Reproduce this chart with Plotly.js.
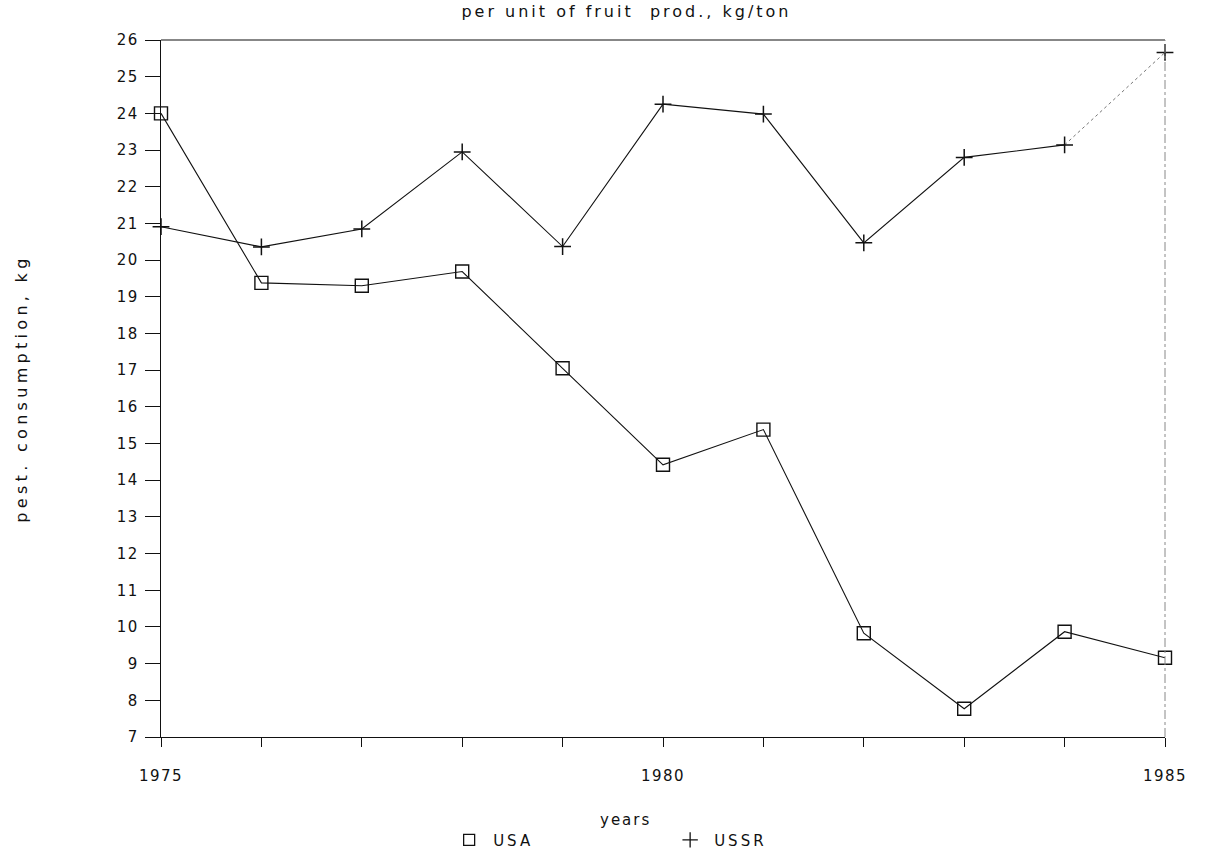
<!DOCTYPE html>
<html>
<head>
<meta charset="utf-8">
<script src="https://cdn.plot.ly/plotly-3.0.1.min.js"></script>
<style>
html,body{margin:0;padding:0;background:#fff;}
#chart{width:1207px;height:854px;}
#chart .gtitle{letter-spacing:3px;}
#chart .ytitle{letter-spacing:4.3px;}
#chart .annotation-text{letter-spacing:2px;}
#chart .legendtext{letter-spacing:3px;}
#chart .xtick text, #chart .ytick text{letter-spacing:1.5px;}
</style>
</head>
<body>
<div id="chart"></div>
<script>
const years = [1975, 1976, 1977, 1978, 1979, 1980, 1981, 1982, 1983, 1984, 1985];
const usa  = [24.0, 19.38, 19.3, 19.69, 17.05, 14.42, 15.38, 9.83, 7.77, 9.87, 9.16];
const ussr = [20.91, 20.36, 20.85, 22.95, 20.37, 24.25, 23.98, 20.47, 22.8, 23.14, 25.66];
const seriesNames = ['USA', 'USSR'];
const xTickVals = [1975, 1980, 1985];
const titleText = 'per unit of fruit&nbsp;&nbsp;prod., kg/ton';
const xTitle = 'years';
const yTitle = 'pest. consumption, kg';

const FONT = 'DejaVu Sans, sans-serif';
const INK = '#111';

const traces = [
  {x: years, y: usa, mode: 'lines+markers', name: seriesNames[0], showlegend: false,
   line: {color: INK, width: 1.1},
   marker: {symbol: 'square-open', size: 13, color: INK, line: {width: 1.4, color: INK}},
   cliponaxis: false},
  // USSR line: last segment is faint/dotted in the scan
  {x: years.slice(9), y: ussr.slice(9), mode: 'lines', showlegend: false,
   line: {color: '#777', width: 1, dash: 'dot'}, cliponaxis: false},
  {x: years.slice(0, 10), y: ussr.slice(0, 10), mode: 'lines', showlegend: false,
   line: {color: INK, width: 1.1}, cliponaxis: false},
  {x: years, y: ussr, mode: 'markers', name: seriesNames[1], showlegend: false,
   marker: {symbol: 'cross-thin-open', size: 12, color: INK, line: {width: 1.5, color: INK}},
   cliponaxis: false},
  {x: [null], y: [null], mode: 'markers', name: seriesNames[0], showlegend: true,
   marker: {symbol: 'square-open', size: 11, color: INK, line: {width: 1.3, color: INK}}},
  {x: [null], y: [null], mode: 'markers', name: seriesNames[1], showlegend: true,
   marker: {symbol: 'cross-thin-open', size: 11, color: INK, line: {width: 1.3, color: INK}}}
];

const layout = {
  width: 1207, height: 854,
  paper_bgcolor: '#fff', plot_bgcolor: '#fff',
  margin: {l: 161, r: 42, t: 40, b: 117, autoexpand: false},
  font: {family: FONT, size: 15, color: INK},
  title: {text: titleText, x: 0.519, xanchor: 'center', y: 0.993, yanchor: 'top',
          font: {family: FONT, size: 16, color: INK}},
  xaxis: {
    range: [1975, 1985], tickvals: xTickVals, ticktext: xTickVals.map(String),
    ticks: 'outside', ticklen: 9, tickwidth: 1, tickcolor: INK,
    minor: {dtick: 1, tick0: 1975, ticks: 'outside', ticklen: 9, tickwidth: 1, tickcolor: INK, showgrid: false},
    showline: true, linecolor: INK, linewidth: 1.2, showgrid: false, zeroline: false,
    tickfont: {family: FONT, size: 15}, ticklabelstandoff: 16
  },
  yaxis: {
    range: [7, 26], dtick: 1, tick0: 7,
    ticks: 'outside', ticklen: 15, tickwidth: 1, tickcolor: INK,
    showline: true, linecolor: INK, linewidth: 1.2, showgrid: false, zeroline: false,
    tickfont: {family: FONT, size: 15}, ticklabelstandoff: 3,
    title: {text: yTitle, standoff: 88, font: {family: FONT, size: 16}}
  },
  annotations: [
    {text: xTitle, xref: 'paper', yref: 'paper', x: 0.463, y: -0.119, xanchor: 'center', yanchor: 'middle',
     showarrow: false, font: {family: FONT, size: 15, color: INK}}
  ],
  showlegend: true,
  legend: {orientation: 'h', x: 0.283, xanchor: 'left', y: -0.148, yanchor: 'middle',
           entrywidth: 168, entrywidthmode: 'pixels', font: {family: FONT, size: 15, color: INK},
           itemwidth: 38, bgcolor: 'rgba(0,0,0,0)'},
  shapes: [
    {type: 'line', xref: 'paper', yref: 'paper', x0: 0, x1: 1, y0: 1, y1: 1, line: {color: INK, width: 1.2}},
    {type: 'line', xref: 'paper', yref: 'paper', x0: 1, x1: 1, y0: 0, y1: 1, line: {color: '#888', width: 1, dash: 'dashdot'}}
  ]
};

Plotly.newPlot('chart', traces, layout, {staticPlot: true, displayModeBar: false});
</script>
</body>
</html>
